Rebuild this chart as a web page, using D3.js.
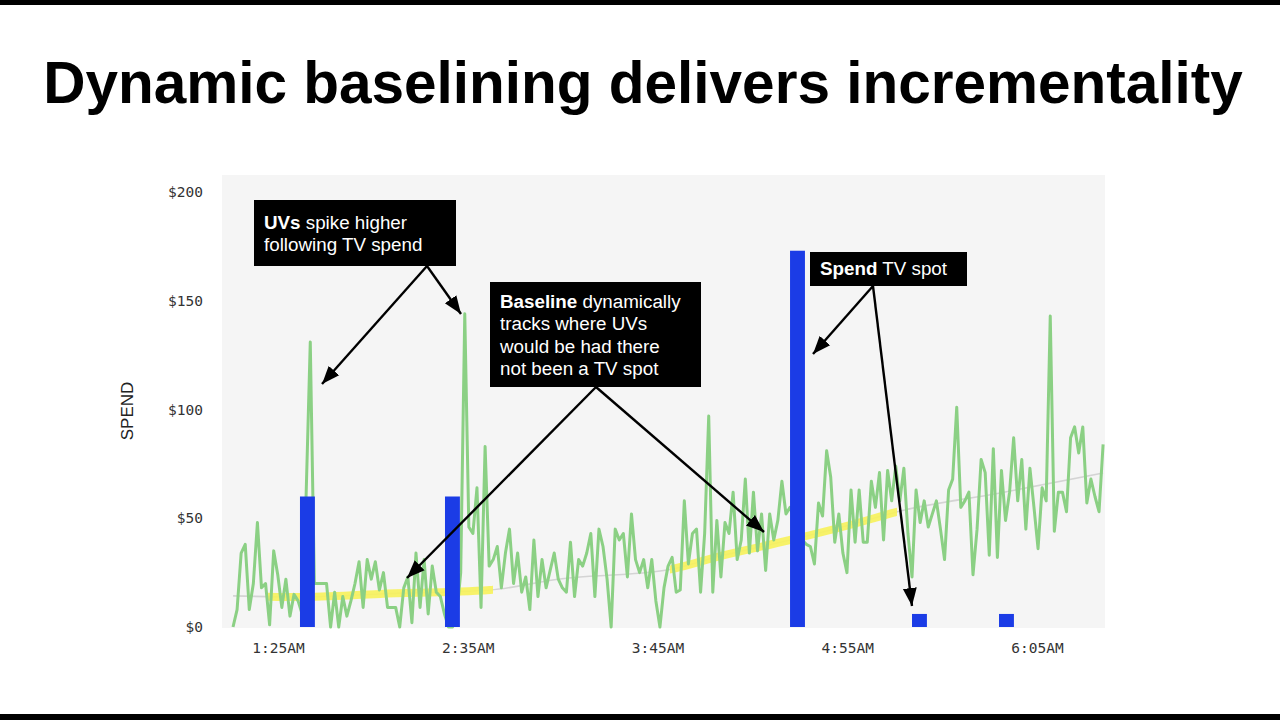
<!DOCTYPE html>
<html>
<head>
<meta charset="utf-8">
<script src="https://cdn.jsdelivr.net/npm/d3@7"></script>
<style>
	html, body { margin: 0; padding: 0; background: #fff; }
	svg { display: block; }
</style>
</head>
<body>
<div id="main"></div>
<script>
// unique visitors, one sample every 90 seconds from uvStart
const uvStart = "01:08:24";
const uvStepSeconds = 90;
const uvValues = [
	0, 8, 34, 38, 8, 20, 48, 18, 20, 1, 35, 24, 9, 22, 5, 15, 12, 6, 62, 131,
	20, 20, 20, 20, 0, 16, 0, 14, 5, 12, 20, 30, 9, 31, 22, 30, 17, 25, 9, 9,
	9, 0, 18, 23, 2, 34, 9, 31, 6, 28, 16, 14, 6, 0, 0, 5, 25, 144, 46, 43,
	64, 9, 83, 28, 31, 37, 18, 34, 45, 20, 34, 16, 23, 8, 40, 14, 31, 18, 26, 34,
	22, 18, 16, 39, 14, 31, 28, 34, 43, 14, 45, 37, 22, 0, 45, 40, 43, 23, 52, 31,
	25, 31, 18, 31, 12, 0, 18, 28, 32, 16, 17, 58, 29, 43, 45, 16, 43, 97, 16, 49,
	23, 48, 43, 62, 31, 40, 68, 34, 62, 35, 52, 26, 52, 40, 49, 67, 52, 55, 50, 45,
	40, 38, 37, 29, 57, 51, 81, 69, 39, 52, 34, 25, 63, 39, 63, 39, 39, 67, 55, 71,
	40, 72, 58, 74, 58, 73, 43, 23, 63, 48, 58, 46, 52, 58, 45, 31, 63, 68, 101, 55,
	58, 62, 24, 45, 77, 71, 33, 82, 32, 72, 49, 62, 87, 58, 77, 45, 73, 55, 36, 64,
	58, 143, 44, 62, 62, 53, 87, 92, 80, 92, 57, 68, 60, 53, 84
];

// TV spend per spot
const spotTimes = ["01:33:06", "02:26:36", "04:33:54", "05:18:54", "05:51:00"];
const spotValues = [60, 60, 173, 6, 6];
const spotMinutes = 5.5;

// dynamic baseline
const baselineTimes = [
	"01:08:24", "01:33:06", "02:02:36", "02:43:12", "03:09:00", "03:48:30",
	"04:08:06", "04:33:54", "04:56:00", "05:14:30", "05:51:24", "06:29:24"
];
const baselineValues = [14.3, 13.8, 15.2, 17, 22.1, 26.2, 32.6, 40, 46.9, 53.3, 61.6, 70.8];

// stretches where the baseline is highlighted
const highlightStarts = ["01:21:18", "03:49:36"];
const highlightEnds = ["02:44:18", "05:13:24"];

const yTicks = [0, 50, 100, 150, 200];
const xTickTimes = ["01:25:00", "02:35:00", "03:45:00", "04:55:00", "06:05:00"];
const xDomain = ["01:04:20", "06:30:06"];

const parse = d3.timeParse("%H:%M:%S");
const t0 = parse(uvStart);
const uv = uvValues.map((v, i) => ({
	t: new Date(t0.getTime() + i * uvStepSeconds * 1000),
	v: v,
}));
const spots = spotTimes.map((s, i) => ({ t: parse(s), v: spotValues[i] }));
const baseline = baselineTimes.map((s, i) => ({ t: parse(s), v: baselineValues[i] }));

const svg = d3
	.select("#main")
	.append("svg")
	.attr("width", 1280)
	.attr("height", 720);

// letterbox strips
svg.append("rect").attr("x", 0).attr("y", 0).attr("width", 1280).attr("height", 5).attr("fill", "#000");
svg.append("rect").attr("x", 0).attr("y", 714).attr("width", 1280).attr("height", 6).attr("fill", "#000");

const title = svg
	.append("text")
	.attr("x", 643)
	.attr("y", 103)
	.attr("text-anchor", "middle")
	.style("font-family", "'Liberation Sans', Arial, sans-serif")
	.style("font-weight", 700)
	.style("font-size", "60px")
	.style("fill", "#000")
	.text("Dynamic baselining delivers incrementality");
const tw = title.node().getComputedTextLength();
title.style("font-size", (60 * 1200) / tw + "px");

const x = d3
	.scaleTime()
	.domain(xDomain.map(parse))
	.range([222, 1105]);
const y = d3.scaleLinear().domain([0, 200]).range([627, 192]);

svg.append("rect")
	.attr("x", 222)
	.attr("y", 175)
	.attr("width", 1105 - 222)
	.attr("height", 628 - 175)
	.attr("fill", "#f5f5f5");

const monoFont = "'DejaVu Sans Mono', 'Liberation Mono', monospace";

const yAxis = svg
	.append("g")
	.attr("transform", "translate(222,0)")
	.call(
		d3.axisLeft(y)
			.tickValues(yTicks)
			.tickFormat((d) => "$" + d)
			.tickSize(0)
			.tickPadding(19)
	);
const xAxis = svg
	.append("g")
	.attr("transform", "translate(0,628)")
	.call(
		d3.axisBottom(x)
			.tickValues(xTickTimes.map(parse))
			.tickFormat(d3.timeFormat("%-I:%M%p"))
			.tickSize(0)
			.tickPadding(15)
	);
[yAxis, xAxis].forEach((a) => {
	a.select(".domain").remove();
	a.selectAll("text")
		.style("font-family", monoFont)
		.style("font-size", "14.5px")
		.style("fill", "#333");
});

svg.append("text")
	.attr("transform", "translate(133,411) rotate(-90)")
	.attr("text-anchor", "middle")
	.style("font-family", "'Liberation Sans', Arial, sans-serif")
	.style("font-size", "17px")
	.style("fill", "#222")
	.text("SPEND");

const baseLine = d3
	.line()
	.x((d) => x(d.t))
	.y((d) => y(d.v))
	.curve(d3.curveMonotoneX);

// baseline: thin grey everywhere, thick yellow in highlighted stretches
svg.append("path")
	.datum(baseline)
	.attr("d", baseLine)
	.attr("fill", "none")
	.attr("stroke", "#d4d4d4")
	.attr("stroke-width", 1.6);

const clip = svg.append("defs");
highlightStarts.forEach((s, i) => {
	clip.append("clipPath")
		.attr("id", "hl" + i)
		.append("rect")
		.attr("x", x(parse(s)))
		.attr("y", 175)
		.attr("width", x(parse(highlightEnds[i])) - x(parse(s)))
		.attr("height", 453);
	svg.append("path")
		.datum(baseline)
		.attr("d", baseLine)
		.attr("clip-path", `url(#hl${i})`)
		.attr("fill", "none")
		.attr("stroke", "#f7f25a")
		.attr("stroke-opacity", 0.9)
		.attr("stroke-width", 8);
});

svg.append("path")
	.datum(uv)
	.attr("d", d3.line().x((d) => x(d.t)).y((d) => y(d.v)))
	.attr("fill", "none")
	.attr("stroke", "#8bd084")
	.attr("stroke-width", 3)
	.attr("stroke-linejoin", "round");

svg.selectAll("rect.spot")
	.data(spots)
	.enter()
	.append("rect")
	.classed("spot", true)
	.attr("x", (d) => x(d.t))
	.attr("width", (d) => x(new Date(d.t.getTime() + spotMinutes * 60000)) - x(d.t))
	.attr("y", (d) => y(d.v))
	.attr("height", (d) => y(0) - y(d.v))
	.attr("fill", "#1b3ce6");

// annotations
clip.append("marker")
	.attr("id", "head")
	.attr("viewBox", "0 -8 19 16")
	.attr("refX", 18)
	.attr("refY", 0)
	.attr("markerUnits", "userSpaceOnUse")
	.attr("markerWidth", 19)
	.attr("markerHeight", 16)
	.attr("orient", "auto")
	.append("path")
	.attr("d", "M0,-7L18,0L0,7Z")
	.attr("fill", "#000");

const arrows = [
	[427, 266, 322, 384],
	[427, 266, 461, 314],
	[596, 387, 407, 578],
	[596, 387, 764, 532],
	[873, 286, 813, 354],
	[873, 286, 912, 606],
];
svg.selectAll("line.arrow")
	.data(arrows)
	.enter()
	.append("line")
	.classed("arrow", true)
	.attr("x1", (d) => d[0])
	.attr("y1", (d) => d[1])
	.attr("x2", (d) => d[2])
	.attr("y2", (d) => d[3])
	.attr("stroke", "#000")
	.attr("stroke-width", 2.4)
	.attr("marker-end", "url(#head)");

const boxes = [
	{ x: 254, y: 200, w: 202, h: 66, lines: [["UVs", " spike higher"], ["", "following TV spend"]], base: 229 },
	{
		x: 490, y: 282, w: 211, h: 105,
		lines: [["Baseline", " dynamically"], ["", "tracks where UVs"], ["", "would be had there"], ["", "not been a TV spot"]],
		base: 308,
	},
	{ x: 810, y: 252, w: 157, h: 34, lines: [["Spend", " TV spot"]], base: 275 },
];
boxes.forEach((b) => {
	svg.append("rect")
		.attr("x", b.x)
		.attr("y", b.y)
		.attr("width", b.w)
		.attr("height", b.h)
		.attr("fill", "#000");
	b.lines.forEach((l, i) => {
		const t = svg
			.append("text")
			.attr("x", b.x + 10)
			.attr("y", b.base + i * 22.3)
			.style("font-family", "'Liberation Sans', Arial, sans-serif")
			.style("font-size", "18.8px")
			.style("fill", "#fff");
		if (l[0]) t.append("tspan").style("font-weight", 700).text(l[0]);
		t.append("tspan").text(l[1]);
	});
});
</script>
</body>
</html>
